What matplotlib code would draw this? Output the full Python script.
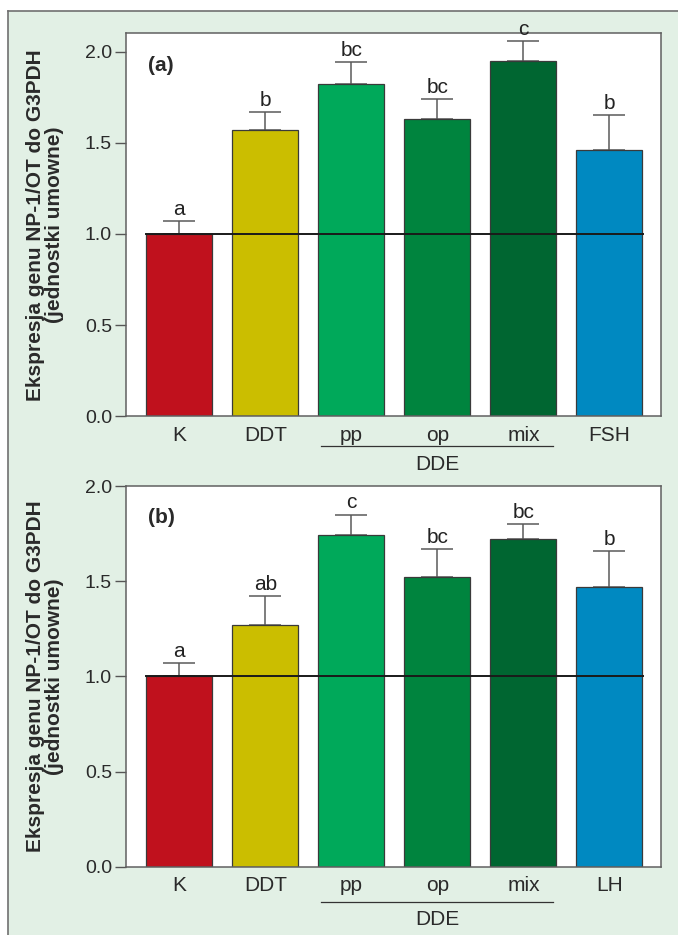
import matplotlib
matplotlib.use("Agg")
import matplotlib.pyplot as plt
from matplotlib.patches import Rectangle
from matplotlib.lines import Line2D
import matplotlib.transforms as mtransforms

plt.rcParams['font.family'] = ['Liberation Sans', 'DejaVu Sans']

# dane
groups = ['K', 'DDT', 'pp', 'op', 'mix']
last_a = 'FSH'
last_b = 'LH'
colors = ['#c0111d', '#cbbe00', '#00a95a', '#00843e', '#006631', '#0089c1']

mean_a = [1.00, 1.57, 1.82, 1.63, 1.95, 1.46]
err_a = [0.07, 0.10, 0.12, 0.11, 0.11, 0.19]
sig_a = ['a', 'b', 'bc', 'bc', 'c', 'b']

mean_b = [1.00, 1.27, 1.74, 1.52, 1.72, 1.47]
err_b = [0.07, 0.15, 0.11, 0.15, 0.08, 0.19]
sig_b = ['a', 'ab', 'c', 'bc', 'bc', 'b']

bg = '#e2f0e5'
W, H = 678, 935

fig = plt.figure(figsize=(W / 100, H / 100), dpi=100, facecolor='white')
# tlo w ramce
x0f = 7.8 / W
y1f = (H - 10.7) / H
fig.add_artist(Rectangle((x0f, 0), 1 - x0f, y1f, transform=fig.transFigure,
                         facecolor=bg, edgecolor='none', zorder=-10))
fig.add_artist(Line2D([x0f, 1], [y1f, y1f], transform=fig.transFigure,
                      color='#707070', lw=1.2))
fig.add_artist(Line2D([x0f, x0f], [0, y1f], transform=fig.transFigure,
                      color='#707070', lw=1.2))


def panel(rect, means, errs, sigs, last, ylim, tag, tag_y, line_off, dde_off):
    ax = fig.add_axes(rect)
    ax.set_facecolor('white')
    x = list(range(len(means)))
    ax.bar(x, means, width=0.767, color=colors, edgecolor='#3a3a3a',
           linewidth=0.9, zorder=2)
    ax.errorbar(x, means, yerr=[[0] * len(errs), errs], fmt='none',
                ecolor='#5a5a5a', elinewidth=1.1, capsize=11.8,
                capthick=1.1, zorder=1)
    for xi, m, e, s in zip(x, means, errs, sigs):
        ax.annotate(s, (xi, m + e), xytext=(0, 1.5), textcoords='offset points',
                    ha='center', va='bottom', fontsize=15, color='#222222')
    ax.plot([-0.39, 5.39], [1, 1], color='#1a1a1a', lw=1.4, zorder=3)
    ax.set_xlim(-0.62, 5.6)
    ax.set_ylim(*ylim)
    ax.set_yticks([0, 0.5, 1.0, 1.5, 2.0])
    ax.set_yticklabels(['0.0', '0.5', '1.0', '1.5', '2.0'])
    ax.set_xticks(x)
    ax.set_xticklabels(groups + [last])
    ax.tick_params(axis='y', length=8, width=1.0, color='#555555', pad=2,
                   labelsize=14, labelcolor='#2a2a2a')
    ax.tick_params(axis='x', length=0, pad=7, labelsize=15,
                   labelcolor='#2a2a2a')
    for sp in ax.spines.values():
        sp.set_color('#606060')
        sp.set_linewidth(1.1)
    ax.set_ylabel('Ekspresja genu NP-1/OT do G3PDH\n(jednostki umowne)',
                  fontsize=15, fontweight='bold', color='#2a2a2a',
                  linespacing=1.0)
    ax.yaxis.set_label_coords(-0.116, 0.5)
    ax.text(-0.36, tag_y, tag, fontsize=15, fontweight='bold',
            ha='left', va='center', color='#2a2a2a')
    trans = mtransforms.blended_transform_factory(ax.transData, ax.transAxes)
    ax.plot([1.65, 4.35], [line_off, line_off], transform=trans,
            color='#333333', lw=0.9, clip_on=False)
    ax.text(3, dde_off, 'DDE', transform=trans, ha='center', va='top',
            fontsize=15, color='#2a2a2a')
    return ax


panel([126 / W, (H - 416.3) / H, 535 / W, 383 / H], mean_a, err_a, sig_a,
      last_a, (0, 2.1), '(a)', 1.925, -0.077, -0.102)
panel([126 / W, (H - 866.7) / H, 535 / W, 380.7 / H], mean_b, err_b, sig_b,
      last_b, (0, 2.0), '(b)', 1.834, -0.092, -0.115)

fig.savefig('out.png', dpi=100, facecolor=fig.get_facecolor())
